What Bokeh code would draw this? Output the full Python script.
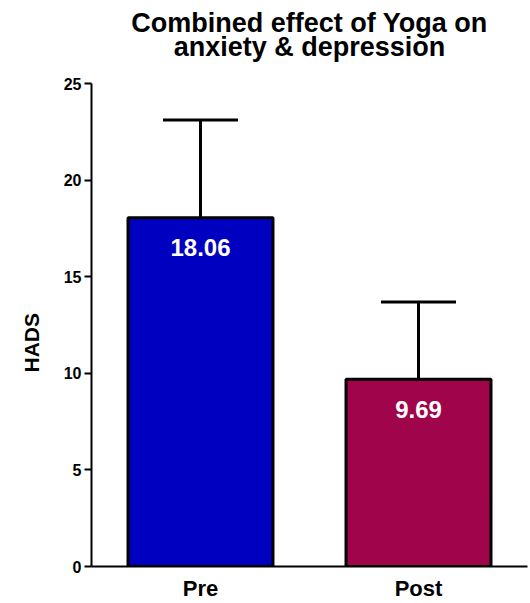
from bokeh.plotting import figure
from bokeh.models import ColumnDataSource, FactorRange, Range1d, FixedTicker, Whisker, TeeHead, Title
from bokeh.core.properties import value
from bokeh.embed import file_html
from bokeh.resources import INLINE

categories = ["Pre", "Post"]
means = [18.06, 9.69]
sds = [5.05, 4.0]
colors = ["#0000C0", "#A0044A"]
y_ticks = [0, 5, 10, 15, 20, 25]
title_lines = ["Combined effect of Yoga on", "anxiety & depression"]
y_label = "HADS"

FONT = "Liberation Sans"
Y_MAX_AXIS = 25
Y_MAX_VIEW = 29.3          # headroom above the axis for the two-line title
TITLE_Y = [28.13, 26.90]   # baselines of the title lines (axis units)
TITLE_X = 1.0              # centre of the two categories

src = ColumnDataSource(dict(
    x=categories,
    top=means,
    upper=[m + s for m, s in zip(means, sds)],
    color=colors,
    label=[f"{m:.2f}" for m in means],
))

p = figure(width=530, height=603, output_backend="svg", toolbar_location=None,
           x_range=FactorRange(factors=categories, range_padding=0),
           y_range=Range1d(0, Y_MAX_VIEW),
           min_border_left=91, min_border_right=3, min_border_top=0, min_border_bottom=0)
p.title = None

p.text(x=[TITLE_X, TITLE_X], y=TITLE_Y, text=title_lines, text_align="center",
       text_baseline="alphabetic", text_color="black", text_font=value(FONT),
       text_font_style="bold", text_font_size="27px")

p.vbar(x="x", top="top", width=0.665, bottom=0, source=src, fill_color="color",
       line_color="black", line_width=3)

wh = Whisker(base="x", lower="top", upper="upper", source=src, line_color="black", line_width=3,
             upper_head=TeeHead(size=75, line_width=3, line_color="black"), lower_head=None)
p.add_layout(wh)

p.text(x="x", y="top", text="label", source=src, text_color="white", text_align="center",
       text_baseline="middle", y_offset=30, text_font=value(FONT), text_font_style="bold",
       text_font_size="24px")

p.xgrid.visible = False
p.ygrid.visible = False
p.outline_line_color = None

ya = p.yaxis[0]
ya.ticker = FixedTicker(ticks=y_ticks)
ya.bounds = (0, Y_MAX_AXIS)
ya.axis_line_width = 2
ya.major_tick_line_width = 2
ya.major_tick_out = 7
ya.major_tick_in = 0
ya.minor_tick_line_color = None
ya.major_label_text_font = FONT
ya.major_label_text_font_style = "bold"
ya.major_label_text_font_size = "16px"
ya.major_label_text_color = "black"
ya.major_label_standoff = 3

# y-axis title, placed beside the 0-25 span of the axis
p.add_layout(Title(text=y_label, align="left", vertical_align="middle", offset=194,
                   standoff=34, text_font=FONT, text_font_style="bold",
                   text_font_size="21px", text_color="black"), "left")

xa = p.xaxis[0]
xa.axis_line_width = 2
xa.major_tick_line_color = None
xa.minor_tick_line_color = None
xa.major_label_text_font = FONT
xa.major_label_text_font_style = "bold"
xa.major_label_text_font_size = "22px"
xa.major_label_text_color = "black"
xa.major_label_standoff = 3

open("out.html", "w").write(file_html(p, INLINE))
